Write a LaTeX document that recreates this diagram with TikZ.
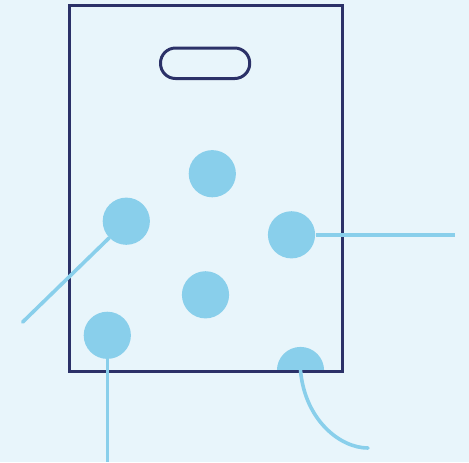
\documentclass[tikz,border=0pt]{standalone}
\usepackage{tikz}
\definecolor{bgblue}{HTML}{E8F5FB}
\definecolor{skyblue}{HTML}{89CFEB}
\definecolor{bagnavy}{HTML}{2B3168}
\tikzset{
  spot/.style={circle, fill=skyblue, inner sep=0pt, minimum size=23.6pt},
  feed/.style={draw=skyblue, line width=1.8pt},
  outline/.style={draw=bagnavy, line width=1.5pt}
}
\begin{document}
\begin{tikzpicture}[x=0.5pt, y=-0.5pt]
			% Canvas
			\fill[bgblue] (0, 0) rectangle (469, 462);
			\useasboundingbox (0, 0) rectangle (469, 462);
			% Spots on the bag
			\node[spot] (top) at (212.3, 173.7) {};
			\node[spot] (left) at (126.3, 221.2) {};
			\node[spot] (right) at (291.5, 234.8) {};
			\node[spot] (mid) at (205.5, 294.8) {};
			\node[spot] (low) at (107.3, 335.3) {};
			% Half spot at the bottom edge
			\begin{scope}
				\clip (250, 300) rectangle (350, 370);
				\node[spot] (edge) at (300.5, 370.5) {};
			\end{scope}
			% Bag outline and handle slot
			\draw[outline] (69, 5.5) rectangle (342, 371);
			\draw[outline, rounded corners=7.5pt] (160.5, 48) rectangle (249.7, 78.5);
			% Free ends of the leads
			\coordinate (leftEnd) at (22.7, 322);
			\coordinate (rightEnd) at (455, 234.8);
			\coordinate (lowEnd) at (107.3, 462);
			\coordinate (edgeEnd) at (368, 448);
			% Leads
			\draw[feed, line cap=round] (left) -- (leftEnd);
			\draw[feed] (right) -- (rightEnd);
			\draw[feed] (low) -- (lowEnd);
			\draw[feed, line cap=round] (edge.center) .. controls (305, 420) and (340, 448) .. (edgeEnd);
		\end{tikzpicture}
\end{document}
